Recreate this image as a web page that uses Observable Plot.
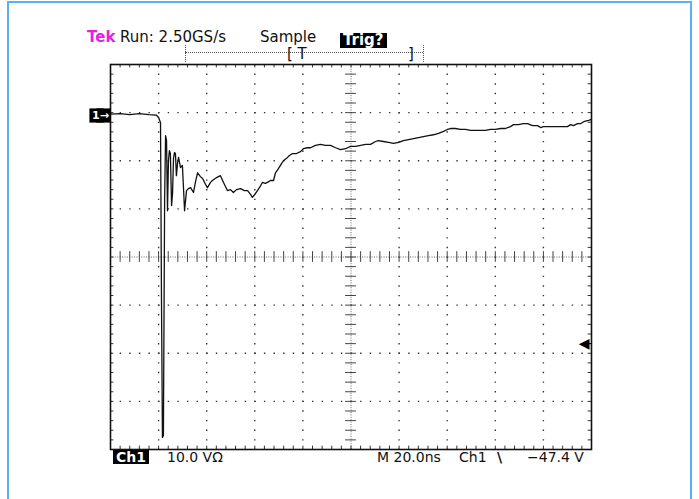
<!DOCTYPE html>
<html><head><meta charset="utf-8">
<script src="https://cdn.jsdelivr.net/npm/d3@7"></script>
<script src="https://cdn.jsdelivr.net/npm/@observablehq/plot@0.6"></script>
<style>
body{margin:0;background:#fff;width:699px;height:499px;overflow:hidden;position:relative;font-family:"DejaVu Sans",sans-serif;}
#border{position:absolute;left:7px;top:1px;width:685px;height:502px;border:2px solid #5ab0f0;box-sizing:border-box;z-index:5;pointer-events:none;}
.t{position:absolute;white-space:nowrap;color:#111;}
.hdr{font-size:15px;line-height:15px;top:30px;}
.ftr{font-size:14px;line-height:14px;top:450px;}
.box{background:#000;color:#fff;font-weight:bold;}
#chart{position:absolute;left:0;top:0;}
</style></head>
<body>
<div id="chart"></div>
<div id="border"></div>
<span class="t hdr" style="left:87px;color:#e81ee0;font-weight:bold;">Tek</span>
<span class="t hdr" style="left:120px;">Run: 2.50GS/s</span>
<span class="t hdr" style="left:260px;">Sample</span>
<span class="t hdr box" style="left:340px;top:33px;padding:0 3px;line-height:15px;">Trig?</span>
<div style="position:absolute;left:185px;top:52px;width:238px;border-top:1px dotted #555;"></div>
<div style="position:absolute;left:185px;top:45px;height:17px;border-left:1px dotted #555;"></div>
<div style="position:absolute;left:423px;top:45px;height:17px;border-left:1px dotted #555;"></div>
<span class="t hdr" style="left:287px;top:47px;">[ T</span>
<span class="t hdr" style="left:408px;top:47px;">]</span>
<span class="t ftr box" style="left:113px;padding:0 3px;">Ch1</span>
<span class="t ftr" style="left:167px;">10.0 VΩ</span>
<span class="t ftr" style="left:377px;">M 20.0ns</span>
<span class="t ftr" style="left:459px;">Ch1</span>
<span class="t ftr" style="left:497px;font-weight:bold;">\</span>
<span class="t ftr" style="left:527px;">−47.4 V</span>
<script>
// Time axis: 10 divisions × 20 ns; vertical: 8 divisions × 10 V
const timeDomain = [0, 200];
const voltDomain = [-69.4, 10.6];   // ground marker sits 2.94 div above centre
const groundLevel = 0;
const triggerLevel = -47.4;

// Trace (ns, V)
const timeNs = [0,4,8,12,16,19,20,20.8,21.2,21.6,22.0,22.5,22.9,23.3,23.7,24.1,24.5,24.9,25.4,25.8,26.2,26.6,27.0,27.4,27.9,28.3,29.1,29.9,30.4,30.8,31.2,31.6,32.4,33.3,34.5,35.3,36.2,37.4,38.3,39.5,40.3,41.6,42.4,44.1,45.7,47.0,48.6,49.9,51.1,52.4,54.1,55.7,57.0,58.2,59.0,60.3,61.1,62.4,63.2,64.4,65.3,66.5,67.8,68.6,69.9,71.1,71.9,73.2,74.4,75.7,77.3,79.0,80.2,81.9,83.2,85.2,87.3,89.4,91.5,93.6,95.6,97.7,99.8,101.9,104.0,106.1,108.1,110.2,111.4,113.5,115.6,117.7,119.8,121.8,123.9,126.0,128.1,130.1,132.2,134.3,136.4,138.5,140.1,141.4,143.4,145.5,147.6,149.7,151.8,153.8,155.9,158.0,160.1,162.2,164.2,166.3,167.6,169.6,171.7,173.4,175.5,177.6,178.8,180.0,182.1,184.2,186.3,188.4,190.0,191.3,192.5,194.2,195.4,197.1,198.8,200];
const volts  = [0.3,0.4,0.2,0.4,0.2,0.1,-0.4,-1.5,-38.5,-66.9,-66.5,-17.7,-4.2,-5.2,-19.8,-9.4,-7.3,-7.9,-18.7,-16.2,-8.9,-7.7,-7.9,-12.5,-9.8,-8.7,-10.8,-10.4,-15.6,-19.8,-17.7,-15.6,-15.2,-15.0,-16.0,-13.9,-11.9,-12.7,-13.1,-14.3,-15.0,-13.9,-13.5,-12.9,-12.5,-13.9,-15.6,-15.4,-16.0,-15.4,-15.2,-15.6,-15.6,-16.4,-17.0,-16.2,-15.6,-14.6,-13.9,-14.1,-13.9,-13.5,-13.5,-11.9,-11.0,-10.0,-9.4,-8.9,-8.3,-7.9,-7.9,-7.5,-6.9,-6.7,-6.7,-6.2,-6.0,-6.2,-6.2,-6.7,-7.1,-6.9,-6.4,-6.4,-6.2,-6.0,-6.0,-5.4,-5.2,-5.4,-5.6,-5.8,-5.6,-5.2,-5.0,-4.8,-4.6,-4.4,-4.2,-4.0,-3.7,-3.3,-2.9,-2.7,-2.7,-2.9,-2.9,-3.1,-3.1,-3.1,-3.1,-2.9,-2.9,-2.7,-2.7,-2.3,-1.9,-1.9,-1.7,-1.7,-2.1,-2.1,-2.5,-2.3,-2.3,-2.3,-2.3,-2.3,-2.3,-1.9,-2.1,-1.7,-1.7,-1.2,-1.0,-0.8];
const trace = timeNs.map((t, i) => ({t, v: volts[i]}));

const divT = 20, divV = 10;
const centreT = (timeDomain[0] + timeDomain[1]) / 2;
const centreV = (voltDomain[0] + voltDomain[1]) / 2;
const gridT = d3.range(1, 10).map(k => timeDomain[0] + k * divT).filter(t => t !== centreT);
const gridV = d3.range(1, 8).map(k => voltDomain[0] + k * divV).filter(v => Math.abs(v - centreV) > 1e-6);
const minorT = d3.range(0, 51).map(k => timeDomain[0] + k * divT / 5);
const minorV = d3.range(0, 41).map(k => voltDomain[0] + k * divV / 5);
const tickLenV = divV / 5 * 0.35, tickLenT = divT / 5 * 0.35;

const dots = {stroke: "#333", strokeWidth: 1.4, strokeDasharray: "1.4,8.22"};

const chart = Plot.plot({
  width: 699, height: 499,
  marginLeft: 110, marginRight: 108, marginTop: 64, marginBottom: 50,
  style: {background: "transparent", fontFamily: "DejaVu Sans"},
  x: {domain: timeDomain, axis: null},
  y: {domain: voltDomain, axis: null},
  marks: [
    Plot.ruleX(gridT, dots),
    Plot.ruleY(gridV, dots),
    Plot.ruleX([centreT], {stroke: "#666", strokeWidth: 1, strokeDasharray: "1,1.4"}),
    Plot.ruleY([centreV], {stroke: "#666", strokeWidth: 1, strokeDasharray: "1,1.4"}),
    Plot.ruleX(minorT, {y1: centreV - tickLenV * 1.6, y2: centreV + tickLenV * 1.6, stroke: "#444", strokeWidth: 1}),
    Plot.ruleY(minorV, {x1: centreT - tickLenT * 1.6, x2: centreT + tickLenT * 1.6, stroke: "#444", strokeWidth: 1}),
    Plot.ruleX(minorT, {y1: voltDomain[1], y2: voltDomain[1] - tickLenV, stroke: "#333", strokeWidth: 1}),
    Plot.ruleX(minorT, {y1: voltDomain[0], y2: voltDomain[0] + tickLenV, stroke: "#333", strokeWidth: 1}),
    Plot.ruleY(minorV, {x1: timeDomain[0], x2: timeDomain[0] + tickLenT, stroke: "#333", strokeWidth: 1}),
    Plot.ruleY(minorV, {x1: timeDomain[1], x2: timeDomain[1] - tickLenT, stroke: "#333", strokeWidth: 1}),
    Plot.frame({stroke: "#111", strokeWidth: 1.6}),
    Plot.line(trace, {x: "t", y: "v", stroke: "#111", strokeWidth: 1.3}),
    Plot.dot([groundLevel], {y: d => d, frameAnchor: "left", symbol: "square", r: 8, fill: "#000", dx: -7}),
    Plot.dot([groundLevel], {y: d => d, frameAnchor: "left", symbol: "square", r: 8, fill: "#000", dx: -14}),
    Plot.text([groundLevel], {y: d => d, frameAnchor: "left", text: () => "1→", fill: "#fff", fontWeight: "bold", fontSize: 11, textAnchor: "middle", dx: -10}),
    Plot.ruleY([triggerLevel], {x1: timeDomain[1] - tickLenT * 1.5, x2: timeDomain[1], stroke: "#000", strokeWidth: 1}),
    Plot.text([triggerLevel], {y: d => d, frameAnchor: "right", text: () => "◀", fill: "#000", fontSize: 14, textAnchor: "end", dx: -2})
  ]
});
document.getElementById("chart").appendChild(chart);
</script>
</body></html>
